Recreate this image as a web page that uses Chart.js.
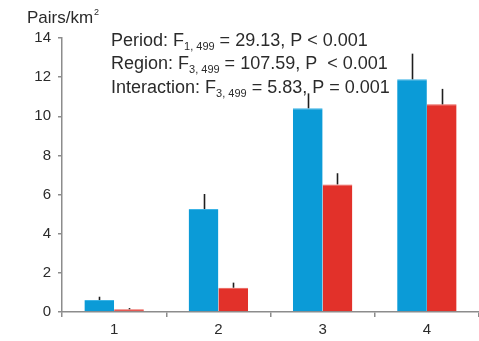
<!DOCTYPE html>
<html>
<head>
<meta charset="utf-8">
<script src="https://cdn.jsdelivr.net/npm/chart.js@4"></script>
<style>
  html, body { margin: 0; padding: 0; background: #fff; }
  #wrap { width: 479px; height: 341px; position: relative; }
</style>
</head>
<body>
<div id="wrap"><canvas id="chartCanvas"></canvas></div>
<script>
// chart values
const categories = ['1', '2', '3', '4'];
const period1Means = [0.61, 5.26, 10.41, 11.89];
const period1Errs = [0.17, 0.77, 0.76, 1.31];
const period2Means = [0.14, 1.24, 6.52, 10.61];
const period2Errs = [0.06, 0.26, 0.57, 0.79];
const yTicks = [0, 2, 4, 6, 8, 10, 12, 14];

// ANOVA lines: [label, subscript, rest]
const statLines = [
    ['Period: F', '1, 499', ' = 29.13, P < 0.001'],
    ['Region: F', '3, 499', ' = 107.59, P  < 0.001'],
    ['Interaction: F', '3, 499', ' = 5.83, P = 0.001'],
];

const axisColor = '#8c8c8c';
const textColor = '#2b2b2b';
const fontFamily = '"Liberation Sans", Arial, sans-serif';

// draws the upper half of each error bar from the bar scale
const errorBarPlugin = {
    id: 'errorBars',
    afterDatasetsDraw(chart) {
        const ctx = chart.ctx;
        const yScale = chart.scales.y;
        const errs = [period1Errs, period2Errs];
        ctx.save();
        ctx.strokeStyle = '#1e1e1e';
        ctx.lineWidth = 1.6;
        chart.data.datasets.forEach((ds, i) => {
            chart.getDatasetMeta(i).data.forEach((bar, j) => {
                const top = yScale.getPixelForValue(ds.data[j]);
                const tip = yScale.getPixelForValue(ds.data[j] + errs[i][j]);
                ctx.beginPath();
                ctx.moveTo(Math.round(bar.x) + 0.5, top);
                ctx.lineTo(Math.round(bar.x) + 0.5, tip);
                ctx.stroke();
            });
        });
        ctx.restore();
    }
};

// y axis title and the statistics text
const textPlugin = {
    id: 'texts',
    afterDraw(chart) {
        const ctx = chart.ctx;
        ctx.save();
        ctx.fillStyle = textColor;
        ctx.textBaseline = 'alphabetic';
        ctx.textAlign = 'left';

        ctx.font = '17px ' + fontFamily;
        ctx.fillText('Pairs/km', 27, 23);
        const w = ctx.measureText('Pairs/km').width;
        ctx.font = '9px ' + fontFamily;
        ctx.fillText('2', 27 + w + 1, 15);

        let y = 45.5;
        statLines.forEach(([head, sub, rest]) => {
            let x = 111;
            ctx.font = '18px ' + fontFamily;
            ctx.fillText(head, x, y);
            x += ctx.measureText(head).width;
            ctx.font = '11px ' + fontFamily;
            ctx.fillText(sub, x, y + 4);
            x += ctx.measureText(sub).width;
            ctx.font = '18px ' + fontFamily;
            ctx.fillText(rest, x, y);
            y += 23.8;
        });
        ctx.restore();
    }
};

const ctx = document.getElementById('chartCanvas').getContext('2d');
new Chart(ctx, {
    type: 'bar',
    data: {
        labels: categories,
        datasets: [
            {
                label: 'Period 1',
                data: period1Means,
                backgroundColor: '#0b9bd7',
                borderColor: '#3cb4e6',
                borderWidth: { top: 1, left: 0, right: 0, bottom: 0 },
                categoryPercentage: 0.57,
                barPercentage: 1.0,
            },
            {
                label: 'Period 2',
                data: period2Means,
                backgroundColor: '#e2312a',
                borderColor: '#ea5a50',
                borderWidth: { top: 1, left: 0, right: 0, bottom: 0 },
                categoryPercentage: 0.57,
                barPercentage: 1.0,
            },
        ],
    },
    options: {
        responsive: true,
        maintainAspectRatio: false,
        animation: false,
        layout: { padding: { top: 38, right: 0, left: 0, bottom: 0 } },
        plugins: {
            legend: { display: false },
            tooltip: { enabled: false },
        },
        scales: {
            x: {
                grid: {
                    display: true,
                    drawOnChartArea: false,
                    offset: true,
                    color: axisColor,
                    tickLength: 5,
                    lineWidth: 1.5,
                },
                border: { color: axisColor, width: 1.5 },
                ticks: {
                    color: textColor,
                    font: { family: fontFamily, size: 15 },
                    padding: 4,
                },
                afterFit(scale) { scale.height = 29; },
            },
            y: {
                min: 0,
                max: 14,
                afterBuildTicks(scale) { scale.ticks = yTicks.map(v => ({ value: v })); },
                grid: {
                    display: true,
                    drawOnChartArea: false,
                    color: axisColor,
                    tickLength: 4,
                    lineWidth: 1.5,
                },
                border: { color: axisColor, width: 1.5 },
                ticks: {
                    color: textColor,
                    font: { family: fontFamily, size: 15 },
                    padding: 7,
                },
                afterFit(scale) { scale.width = 62; },
            },
        },
    },
    plugins: [errorBarPlugin, textPlugin],
});
</script>
</body>
</html>
